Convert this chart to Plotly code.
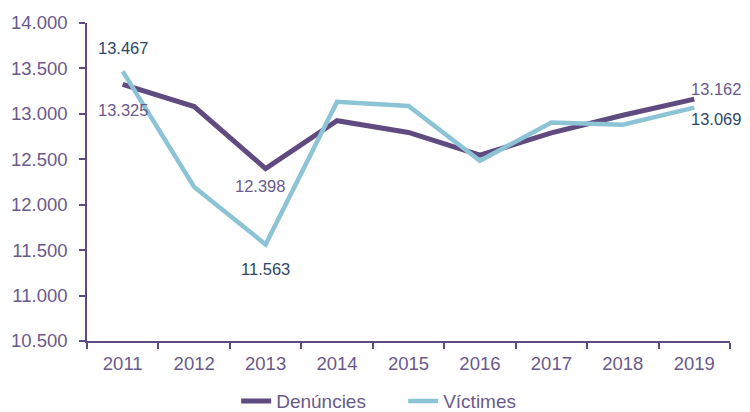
import plotly.graph_objects as go

years = ["2011", "2012", "2013", "2014", "2015", "2016", "2017", "2018", "2019"]
denuncies = [13325, 13080, 12398, 12925, 12795, 12545, 12790, 12985, 13162]
victimes = [13467, 12195, 11563, 13133, 13086, 12484, 12906, 12880, 13069]

# labelled points: (year index, x offset px, y offset px)
den_labels = [(0, 0, -26), (2, -6, -17), (8, 22, 10)]
vic_labels = [(0, 0, 23), (2, 0, -25), (8, 22, -11.5)]

PURPLE = "#5F4B80"
BLUE = "#8CC3D5"
TXT_PURPLE = "#6A5A8C"
TXT_NAVY = "#2C4866"
FONT = "Liberation Sans, Arial"


def fmt(v):
    return "{:,}".format(v).replace(",", ".")


fig = go.Figure()
fig.add_trace(go.Scatter(
    x=years, y=denuncies, name="Denúncies", mode="lines",
    line=dict(color=PURPLE, width=5), cliponaxis=False,
))
fig.add_trace(go.Scatter(
    x=years, y=victimes, name="Víctimes", mode="lines",
    line=dict(color=BLUE, width=4.5), cliponaxis=False,
))

annotations = []
for vals, labels, color in ((denuncies, den_labels, TXT_PURPLE), (victimes, vic_labels, TXT_NAVY)):
    for i, dx, dy in labels:
        annotations.append(dict(
            x=i, y=vals[i], xref="x", yref="y", text=fmt(vals[i]),
            showarrow=False, xshift=dx, yshift=dy,
            font=dict(size=16.5, color=color, family=FONT),
        ))

fig.update_layout(
    width=742, height=404,
    margin=dict(l=79, r=20, t=15, b=71, autoexpand=False),
    plot_bgcolor="white", paper_bgcolor="white",
    separators=",.",
    font=dict(family=FONT, color=TXT_PURPLE, size=18),
    showlegend=True,
    legend=dict(orientation="h", xref="container", yref="paper",
                x=0.3075, xanchor="left", y=-0.189, yanchor="middle",
                entrywidth=122, entrywidthmode="pixels",
                font=dict(size=19, color=TXT_PURPLE, family=FONT),
                traceorder="normal", bgcolor="rgba(0,0,0,0)"),
    annotations=annotations,
    xaxis=dict(type="category", range=[-0.5, 8.5], showline=True, linecolor=PURPLE, linewidth=1.5,
               ticks="outside", tickson="boundaries", ticklen=6, tickcolor=PURPLE, tickwidth=1.5,
               ticklabelstandoff=5,
               showgrid=False, zeroline=False, automargin=False,
               tickfont=dict(size=18.5, color=TXT_PURPLE, family=FONT)),
    yaxis=dict(range=[10500, 14000], dtick=500, tick0=10500, tickformat=",d",
               showline=True, linecolor=PURPLE, linewidth=1.5,
               ticks="outside", ticklen=6, tickcolor=PURPLE, tickwidth=1.5,
               ticklabelstandoff=8,
               showgrid=False, zeroline=False, automargin=False,
               tickfont=dict(size=18.5, color=TXT_PURPLE, family=FONT)),
)

fig.write_html("out.html")
